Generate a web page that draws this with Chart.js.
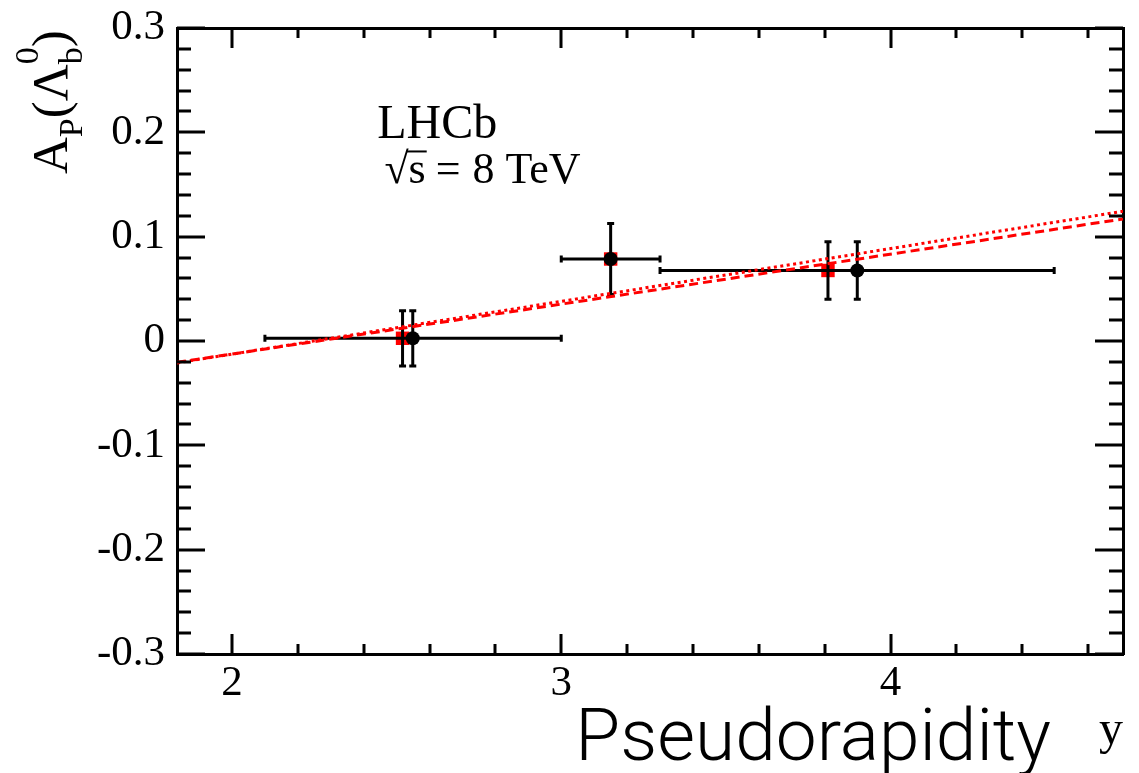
<!DOCTYPE html>
<html>
<head>
<meta charset="utf-8">
<title>A_P vs pseudorapidity</title>
<script src="https://cdn.jsdelivr.net/npm/chart.js@4.4.0/dist/chart.umd.min.js"></script>
<style>
  html, body { margin: 0; padding: 0; background: #fff; }
  #wrap { width: 1139px; height: 773px; }
</style>
</head>
<body>
<div id="wrap"><canvas id="apChart" width="1139" height="773"></canvas></div>
<script>
// axis ranges and tick marks
const xRange = [1.833, 4.706];
const yRange = [-0.3, 0.3];
const xTicks = [2, 3, 4];
const yTicks = [-0.3, -0.2, -0.1, 0, 0.1, 0.2, 0.3];
const xMinorStep = 0.2;
const yMinorStep = 0.02;

// black points, with their y bins
const blackX = [2.549, 3.150, 3.899];
const blackY = [0.0026, 0.0786, 0.0676];
const blackXLow = [2.1, 3.0, 3.3];
const blackXHigh = [3.0, 3.3, 4.497];
const blackYErr = [0.0265, 0.034, 0.0276];

// red points
const redX = [2.518, 3.150, 3.810];
const redY = [0.0026, 0.0786, 0.0676];
const redYErr = [0.0265, 0.034, 0.0276];

// straight-line fits, values at both ends of the x range
const fitX = [1.833, 4.706];
const dashedFit = [-0.0205, 0.117];
const dottedFit = [-0.021, 0.1243];

const serif = "'Liberation Serif', 'Times New Roman', serif";

function pts(xs, ys) {
  return xs.map((x, i) => ({x: x, y: ys[i]}));
}

// ROOT style ticks, drawn inside the frame on all four sides
const frameTicks = {
  id: 'frameTicks',
  afterDatasetsDraw(chart) {
    const {ctx, chartArea: a, scales: {x, y}} = chart;
    ctx.save();
    ctx.strokeStyle = '#000';
    ctx.lineWidth = 3;
    ctx.beginPath();
    for (let k = Math.ceil(xRange[0] / xMinorStep - 1e-6); k * xMinorStep <= xRange[1] + 1e-6; k++) {
      const v = k * xMinorStep;
      const px = Math.round(x.getPixelForValue(v));
      const len = xTicks.some(t => Math.abs(t - v) < 1e-6) ? 20 : 10;
      ctx.moveTo(px, a.bottom); ctx.lineTo(px, a.bottom - len);
      ctx.moveTo(px, a.top); ctx.lineTo(px, a.top + len);
    }
    for (let k = Math.ceil(yRange[0] / yMinorStep - 1e-6); k * yMinorStep <= yRange[1] + 1e-6; k++) {
      const v = k * yMinorStep;
      const py = Math.round(y.getPixelForValue(v));
      const len = yTicks.some(t => Math.abs(t - v) < 1e-6) ? 28 : 14;
      ctx.moveTo(a.left, py); ctx.lineTo(a.left + len, py);
      ctx.moveTo(a.right, py); ctx.lineTo(a.right - len, py);
    }
    ctx.stroke();
    ctx.restore();
  }
};

// error bars: drawn right after the red squares, so black marks sit on top
const errorBars = {
  id: 'errorBars',
  afterDatasetDraw(chart, args) {
    if (args.index !== 3) return;
    const {ctx, scales: {x, y}} = chart;
    const cap = 3.5;
    ctx.save();
    ctx.strokeStyle = '#000';
    ctx.lineWidth = 3;
    ctx.beginPath();
    function vbar(xv, yv, err) {
      const px = x.getPixelForValue(xv);
      const top = y.getPixelForValue(yv + err);
      const bot = y.getPixelForValue(yv - err);
      ctx.moveTo(px, top); ctx.lineTo(px, bot);
      ctx.moveTo(px - cap, top); ctx.lineTo(px + cap, top);
      ctx.moveTo(px - cap, bot); ctx.lineTo(px + cap, bot);
    }
    redX.forEach((v, i) => vbar(v, redY[i], redYErr[i]));
    blackX.forEach((v, i) => {
      vbar(v, blackY[i], blackYErr[i]);
      const py = y.getPixelForValue(blackY[i]);
      const l = x.getPixelForValue(blackXLow[i]);
      const r = x.getPixelForValue(blackXHigh[i]);
      ctx.moveTo(l, py); ctx.lineTo(r, py);
      ctx.moveTo(l, py - cap); ctx.lineTo(l, py + cap);
      ctx.moveTo(r, py - cap); ctx.lineTo(r, py + cap);
    });
    ctx.stroke();
    ctx.restore();
  }
};

// texts: y axis title with sub/superscripts, LHCb label, big x caption
const texts = {
  id: 'texts',
  afterDraw(chart) {
    const {ctx, chartArea: a, scales: {x, y}} = chart;
    ctx.save();
    ctx.fillStyle = '#000';
    ctx.textBaseline = 'alphabetic';

    // A_P(Λ_b^0), rotated
    ctx.save();
    ctx.translate(67, 174);
    ctx.rotate(-Math.PI / 2);
    const big = '51px ' + serif;
    const small = '34px ' + serif;
    let cx = 0;
    function put(txt, font, dy) {
      ctx.font = font;
      ctx.fillText(txt, cx, dy);
      cx += ctx.measureText(txt).width;
    }
    put('A', big, 0);
    put('P', small, 15);
    put('(\u039B', big, 0);
    const bStart = cx;
    put('b', small, 15);
    ctx.font = small;
    ctx.fillText('0', bStart, -29);
    put(')', big, 0);
    ctx.restore();

    // LHCb, sqrt(s) = 8 TeV
    ctx.font = '48px ' + serif;
    ctx.fillText('LHCb', x.getPixelForValue(2.441), y.getPixelForValue(0.195));
    const lx = x.getPixelForValue(2.463);
    const ly = y.getPixelForValue(0.151);
    ctx.font = '44px ' + serif;
    ctx.fillText('\u221A', lx, ly);
    const rw = ctx.measureText('\u221A').width;
    ctx.fillText('s', lx + rw, ly);
    const sw = ctx.measureText('s').width;
    ctx.fillText('=', lx + rw + sw + 10, ly);
    const ew = ctx.measureText('=').width;
    ctx.fillText('8 TeV', lx + rw + sw + ew + 22, ly);
    ctx.lineWidth = 2;
    ctx.beginPath();
    ctx.moveTo(lx + rw - 2, ly - 32);
    ctx.lineTo(lx + rw + sw + 1, ly - 32);
    ctx.stroke();

    // big caption under the x axis
    ctx.font = '300 73px Roboto, "Liberation Sans", sans-serif';
    ctx.textAlign = 'right';
    ctx.fillText('Pseudorapidity', a.right - 72, 760);
    ctx.restore();
  }
};

const ctx = document.getElementById('apChart').getContext('2d');

const apChart = new Chart(ctx, {
  type: 'scatter',
  data: {
    datasets: [
      {
        label: 'fit (dashed)',
        type: 'line',
        data: pts(fitX, dashedFit),
        borderColor: '#ff0000',
        borderWidth: 3,
        borderDash: [9, 5],
        pointRadius: 0,
        fill: false,
        order: 0
      },
      {
        label: 'fit (dotted)',
        type: 'line',
        data: pts(fitX, dottedFit),
        borderColor: '#ff0000',
        borderWidth: 3,
        borderDash: [3, 3.5],
        pointRadius: 0,
        fill: false,
        order: 0
      },
      {
        label: 'black',
        data: pts(blackX, blackY),
        pointStyle: 'circle',
        pointRadius: 7,
        backgroundColor: '#000',
        borderColor: '#000',
        borderWidth: 0,
        order: 1
      },
      {
        label: 'red',
        data: pts(redX, redY),
        pointStyle: 'rect',
        pointRadius: 9.5,
        backgroundColor: '#ff0000',
        borderColor: '#ff0000',
        borderWidth: 0,
        order: 2
      }
    ]
  },
  options: {
    responsive: false,
    animation: false,
    layout: { padding: 0 },
    plugins: {
      legend: { display: false },
      tooltip: { enabled: false }
    },
    scales: {
      x: {
        type: 'linear',
        position: 'bottom',
        min: xRange[0],
        max: xRange[1],
        afterBuildTicks: s => { s.ticks = xTicks.map(v => ({value: v})); },
        afterFit: s => { s.height = 119; },
        grid: { display: false, drawTicks: false },
        border: { display: true, color: '#000', width: 3 },
        ticks: {
          color: '#000',
          font: { family: serif, size: 43 },
          padding: 4,
          maxRotation: 0,
          callback: v => String(v)
        },
        title: {
          display: true,
          text: 'y',
          align: 'end',
          color: '#000',
          font: { family: serif, size: 48 },
          padding: { top: 0, bottom: 13 }
        }
      },
      x2: {
        type: 'linear',
        position: 'top',
        min: xRange[0],
        max: xRange[1],
        afterFit: s => { s.height = 28; },
        grid: { display: false, drawTicks: false },
        border: { display: true, color: '#000', width: 3 },
        ticks: { display: false }
      },
      y: {
        type: 'linear',
        position: 'left',
        min: yRange[0],
        max: yRange[1],
        afterBuildTicks: s => { s.ticks = yTicks.map(v => ({value: v})); },
        afterFit: s => { s.width = 177; },
        grid: { display: false, drawTicks: false },
        border: { display: true, color: '#000', width: 3 },
        ticks: {
          color: '#000',
          font: { family: serif, size: 43, lineHeight: 0.6 },
          padding: 12,
          callback: v => String(v)
        }
      },
      y2: {
        type: 'linear',
        position: 'right',
        min: yRange[0],
        max: yRange[1],
        afterFit: s => { s.width = 16; },
        grid: { display: false, drawTicks: false },
        border: { display: true, color: '#000', width: 3 },
        ticks: { display: false }
      }
    }
  },
  plugins: [frameTicks, errorBars, texts]
});
</script>
</body>
</html>
